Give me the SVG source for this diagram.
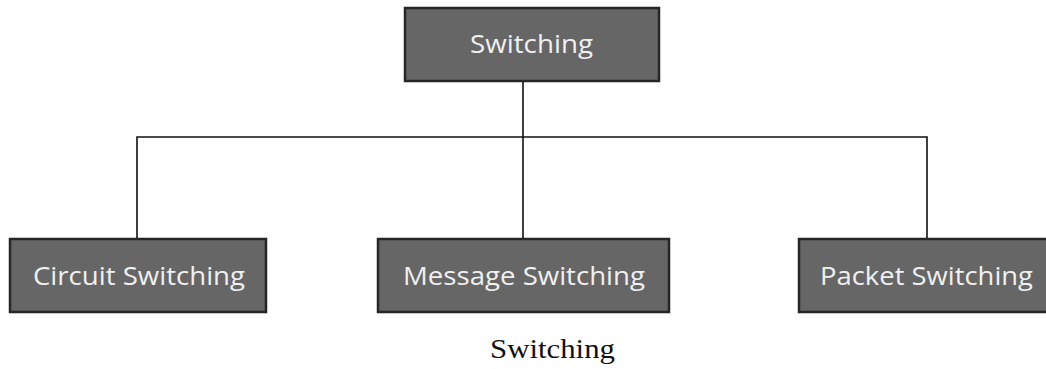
<svg xmlns="http://www.w3.org/2000/svg" width="1046" height="369" viewBox="0 0 1046 369">
<style>
.box{fill:#666666;stroke:#262626;stroke-width:2.5}
.lbl{font-family:"Open Sans","Liberation Sans",sans-serif;font-size:25px;fill:#f0f0f0;text-anchor:start}
.conn{stroke:#111111;stroke-width:1.6;fill:none}
.cap{font-family:"Liberation Serif",serif;font-size:27px;fill:#111111}
</style>
<rect width="1046" height="369" fill="#ffffff"/>
<g id="connectors">
<line class="conn" x1="523" y1="81" x2="523" y2="239"/>
<polyline class="conn" points="137,239 137,137 927,137 927,239"/>
</g>
<g id="node-switching">
<rect class="box" x="405" y="8" width="254" height="73"/>
<text class="lbl" x="470" y="53" textLength="123" lengthAdjust="spacingAndGlyphs">Switching</text>
</g>
<g id="node-circuit">
<rect class="box" x="10" y="239" width="256" height="73"/>
<text class="lbl" x="33" y="285" textLength="212" lengthAdjust="spacingAndGlyphs">Circuit Switching</text>
</g>
<g id="node-message">
<rect class="box" x="378" y="239" width="291" height="73"/>
<text class="lbl" x="403" y="285" textLength="242" lengthAdjust="spacingAndGlyphs">Message Switching</text>
</g>
<g id="node-packet">
<rect class="box" x="799" y="239" width="252" height="73"/>
<text class="lbl" x="820" y="285" textLength="213" lengthAdjust="spacingAndGlyphs">Packet Switching</text>
</g>
<text class="cap" x="490" y="358" textLength="125" lengthAdjust="spacingAndGlyphs">Switching</text>
</svg>
